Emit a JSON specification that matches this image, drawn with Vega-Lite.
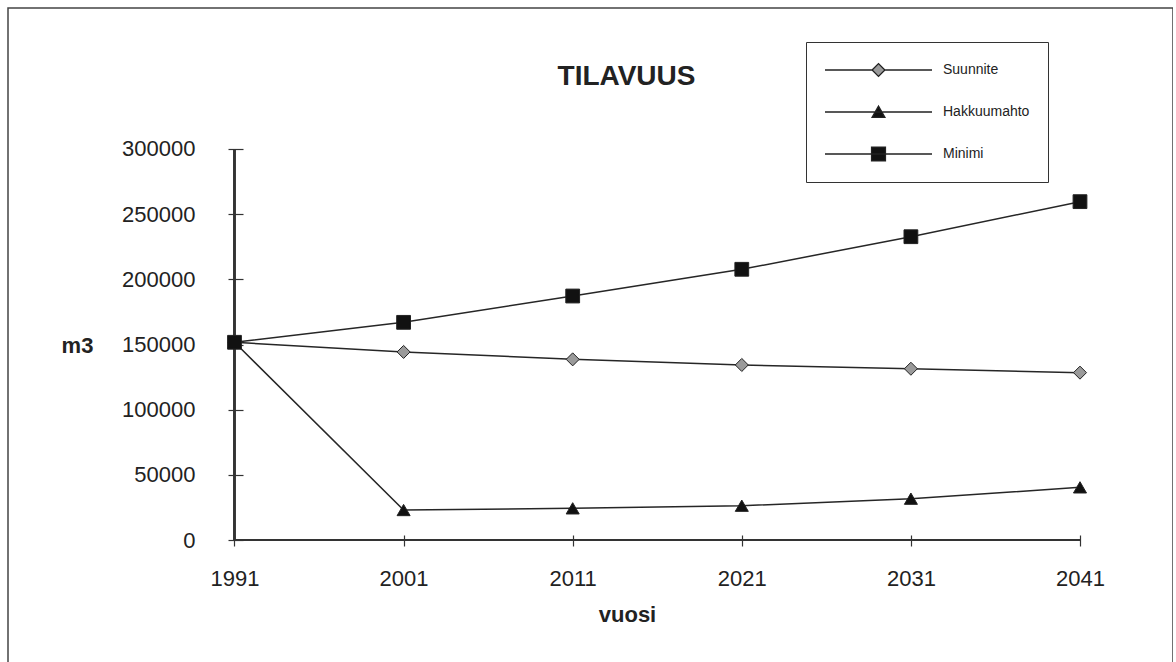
{
  "$schema": "https://vega.github.io/schema/vega-lite/v6.json",
  "autosize": {"type": "none"},
  "padding": {"left": 8, "top": 8, "right": 0, "bottom": 0},
  "width": 1165,
  "height": 670,
  "background": "white",
  "config": {
    "view": {"stroke": "#444", "strokeWidth": 1.5},
    "font": "Liberation Sans",
    "legend": {
      "title": null,
      "orient": "none",
      "legendX": 798,
      "legendY": 34,
      "padding": 18,
      "fillColor": "white",
      "strokeColor": "#333",
      "symbolSize": 11449,
      "symbolStrokeWidth": 1.3,
      "clipHeight": 20,
      "rowPadding": 22,
      "labelOffset": 10,
      "labelFontSize": 14,
      "labelFont": "Liberation Sans",
      "labelColor": "#222"
    }
  },
  "title": {
    "text": "TILAVUUS",
    "fontSize": 28,
    "fontWeight": "bold",
    "font": "Liberation Sans",
    "color": "#222",
    "anchor": "middle",
    "frame": "group",
    "offset": 0,
    "baseline": "alphabetic",
    "dx": 36,
    "dy": 105
  },
  "data": {
    "values": [
      {"vuosi": 1991, "sarja": "Suunnite", "m3": 151700},
      {"vuosi": 2001, "sarja": "Suunnite", "m3": 144300},
      {"vuosi": 2011, "sarja": "Suunnite", "m3": 138600},
      {"vuosi": 2021, "sarja": "Suunnite", "m3": 134300},
      {"vuosi": 2031, "sarja": "Suunnite", "m3": 131400},
      {"vuosi": 2041, "sarja": "Suunnite", "m3": 128400},
      {"vuosi": 1991, "sarja": "Hakkuumahto", "m3": 151700},
      {"vuosi": 2001, "sarja": "Hakkuumahto", "m3": 23000},
      {"vuosi": 2011, "sarja": "Hakkuumahto", "m3": 24300},
      {"vuosi": 2021, "sarja": "Hakkuumahto", "m3": 26300},
      {"vuosi": 2031, "sarja": "Hakkuumahto", "m3": 31700},
      {"vuosi": 2041, "sarja": "Hakkuumahto", "m3": 40400},
      {"vuosi": 1991, "sarja": "Minimi", "m3": 151700},
      {"vuosi": 2001, "sarja": "Minimi", "m3": 167000},
      {"vuosi": 2011, "sarja": "Minimi", "m3": 187200},
      {"vuosi": 2021, "sarja": "Minimi", "m3": 207700},
      {"vuosi": 2031, "sarja": "Minimi", "m3": 232700},
      {"vuosi": 2041, "sarja": "Minimi", "m3": 259600}
    ]
  },
  "encoding": {
    "x": {
      "field": "vuosi",
      "type": "quantitative",
      "scale": {"domain": [1977.606, 2046.5], "nice": false, "zero": false},
      "axis": {
        "orient": "bottom",
        "offset": -143,
        "values": [1991, 2001, 2011, 2021, 2031, 2041],
        "format": "d",
        "domain": false,
        "grid": false,
        "tickSize": 11,
        "tickColor": "#333",
        "tickWidth": 1.2,
        "labelPadding": 22,
        "labelFontSize": 22,
        "labelFont": "Liberation Sans",
        "labelColor": "#222",
        "labelFlush": false,
        "labelOverlap": false,
        "title": "vuosi",
        "titleFont": "Liberation Sans",
        "titleFontSize": 22,
        "titleFontWeight": "bold",
        "titleColor": "#222",
        "titleX": 619,
        "titleY": 86,
        "titleAlign": "center",
        "titleBaseline": "alphabetic"
      }
    },
    "y": {
      "field": "m3",
      "type": "quantitative",
      "scale": {"domain": [-105882, 408184], "nice": false, "zero": false},
      "axis": {
        "orient": "left",
        "offset": -235,
        "values": [0, 50000, 100000, 150000, 200000, 250000, 300000],
        "format": "d",
        "domain": false,
        "grid": false,
        "tickSize": 15,
        "tickColor": "#333",
        "tickWidth": 1.2,
        "labelPadding": 33,
        "labelFontSize": 22,
        "labelFont": "Liberation Sans",
        "labelColor": "#222",
        "labelFlush": false,
        "labelOverlap": false,
        "title": "m3",
        "titleFont": "Liberation Sans",
        "titleFontSize": 22,
        "titleFontWeight": "bold",
        "titleColor": "#222",
        "titleAngle": 0,
        "titleX": -166,
        "titleY": 344,
        "titleAlign": "center",
        "titleBaseline": "alphabetic"
      }
    }
  },
  "layer": [
    {
      "mark": {"type": "rule", "color": "#333", "strokeWidth": 1.3},
      "encoding": {
        "x": {"datum": 1991, "type": "quantitative"},
        "y": {"datum": 0, "type": "quantitative"},
        "y2": {"datum": 300000}
      }
    },
    {
      "mark": {"type": "rule", "color": "#333", "strokeWidth": 1.8},
      "encoding": {
        "y": {"datum": 0, "type": "quantitative"},
        "x": {"datum": 1991, "type": "quantitative"},
        "x2": {"datum": 2041}
      }
    },
    {
      "mark": {"type": "line", "color": "#262626", "strokeWidth": 1.5},
      "encoding": {"detail": {"field": "sarja", "type": "nominal"}}
    },
    {
      "transform": [{"filter": "datum.sarja === 'Suunnite'"}],
      "mark": {"type": "point", "shape": "diamond", "filled": true, "opacity": 1, "fill": "#9a9a9a", "stroke": "#222", "strokeWidth": 1, "size": 170}
    },
    {
      "transform": [{"filter": "datum.sarja === 'Hakkuumahto'"}],
      "mark": {"type": "point", "shape": "triangle-up", "filled": true, "opacity": 1, "fill": "#111", "stroke": "#222", "strokeWidth": 1, "size": 170}
    },
    {
      "transform": [{"filter": "datum.sarja === 'Minimi'"}],
      "mark": {"type": "point", "shape": "square", "filled": true, "opacity": 1, "fill": "#111", "stroke": "#222", "strokeWidth": 1, "size": 190}
    },
    {
      "transform": [{"filter": "false"}],
      "mark": {"type": "point", "filled": true, "opacity": 1, "strokeWidth": 1.3},
      "encoding": {
        "shape": {
          "field": "sarja",
          "type": "nominal",
          "scale": {
            "domain": ["Suunnite", "Hakkuumahto", "Minimi"],
            "range": [
              "M-1,0H-0.12M0.12,0H1M-0.12,0L0,-0.12L0.12,0L0,0.12ZM4.05,0L4.05,0",
              "M-1,0H1M-0.12,0.1L0,-0.11L0.12,0.1ZM4.05,0L4.05,0",
              "M-1,0H1M-0.13,-0.13H0.13V0.13H-0.13ZM4.05,0L4.05,0"
            ]
          }
        },
        "fill": {
          "field": "sarja",
          "type": "nominal",
          "scale": {"domain": ["Suunnite", "Hakkuumahto", "Minimi"], "range": ["#9a9a9a", "#111111", "#111111"]}
        },
        "stroke": {
          "field": "sarja",
          "type": "nominal",
          "scale": {"domain": ["Suunnite", "Hakkuumahto", "Minimi"], "range": ["#222222", "#222222", "#222222"]}
        }
      }
    }
  ]
}
